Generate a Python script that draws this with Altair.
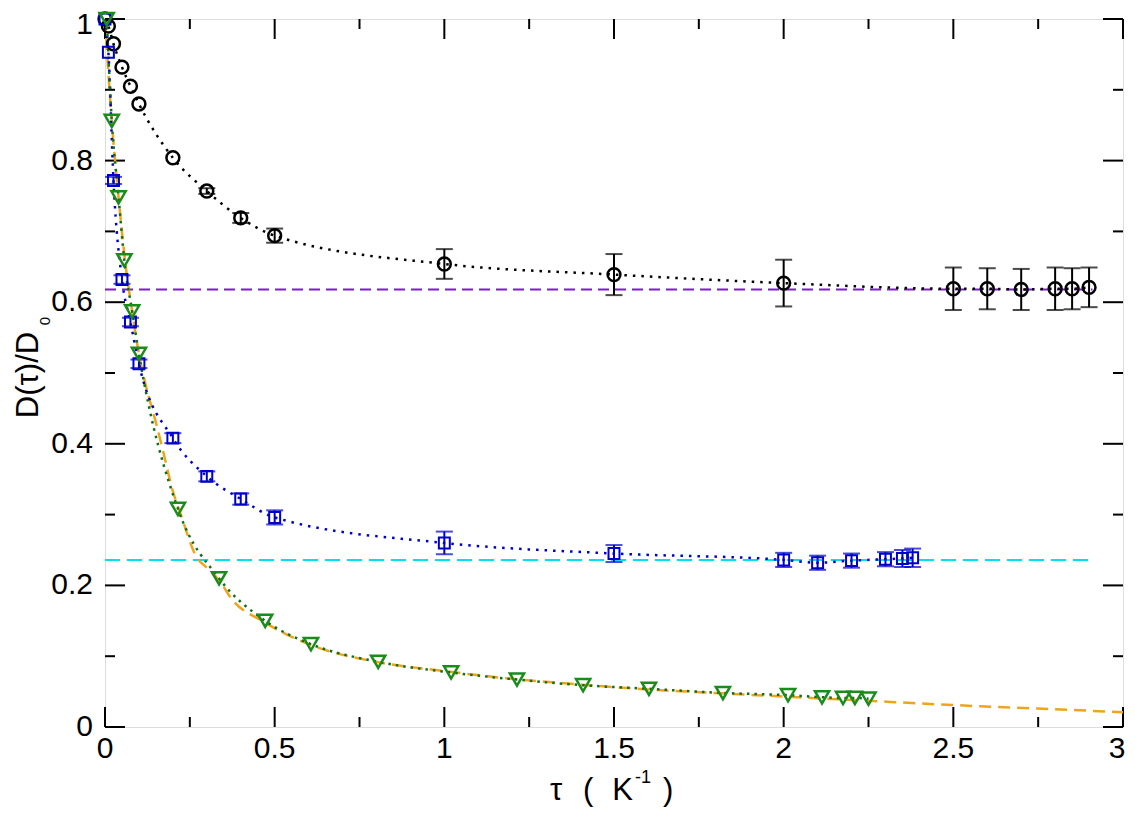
import altair as alt
import pandas as pd

# ---------------- data ----------------
# black circles
c_tau = [0.0, 0.01, 0.025, 0.05, 0.075, 0.1, 0.2, 0.3, 0.4, 0.5, 1.0, 1.5, 2.0, 2.5, 2.6, 2.7, 2.8, 2.85, 2.9]
c_d   = [1.0, 0.99, 0.965, 0.932, 0.905, 0.88, 0.804, 0.757, 0.719, 0.694, 0.654, 0.639, 0.627, 0.619, 0.619, 0.618, 0.619, 0.619, 0.621]
c_err = [0, 0, 0, 0, 0, 0, 0, 0.004, 0.007, 0.01, 0.021, 0.029, 0.033, 0.03, 0.029, 0.029, 0.03, 0.029, 0.028]

# blue squares
s_tau = [0.0, 0.01, 0.025, 0.05, 0.075, 0.1, 0.2, 0.3, 0.4, 0.5, 1.0, 1.5, 2.0, 2.1, 2.2, 2.3, 2.35, 2.38]
s_d   = [1.0, 0.953, 0.772, 0.632, 0.572, 0.513, 0.408, 0.354, 0.322, 0.296, 0.26, 0.245, 0.236, 0.232, 0.235, 0.237, 0.238, 0.239]
s_err = [0, 0, 0.005, 0.006, 0.006, 0.006, 0.007, 0.007, 0.008, 0.01, 0.016, 0.012, 0.01, 0.01, 0.01, 0.01, 0.012, 0.013]

# green triangles
t_tau = [0.005, 0.02, 0.04, 0.057, 0.08, 0.1, 0.215, 0.336, 0.472, 0.607, 0.805, 1.02, 1.214, 1.409,
         1.603, 1.821, 2.013, 2.113, 2.175, 2.21, 2.25]
t_d   = [1.0, 0.856, 0.748, 0.659, 0.587, 0.527, 0.308, 0.21, 0.15, 0.117, 0.092, 0.077, 0.067, 0.059,
         0.054, 0.048, 0.045, 0.042, 0.041, 0.041, 0.040]

# orange dashed curve
o_tau = [0.0, 0.02, 0.04, 0.06, 0.08, 0.1, 0.12, 0.15, 0.17, 0.2, 0.22, 0.27, 0.3, 0.34, 0.37, 0.47,
         0.6, 0.8, 1.0, 1.2, 1.4, 1.6, 1.8, 2.0, 2.25, 2.5, 2.75, 3.0]
o_d   = [1.0, 0.855, 0.748, 0.655, 0.587, 0.527, 0.483, 0.43, 0.392, 0.333, 0.305, 0.24, 0.225, 0.205, 0.183, 0.148,
         0.117, 0.092, 0.079, 0.068, 0.06, 0.053, 0.048, 0.043, 0.037, 0.031, 0.026, 0.021]

# horizontal reference levels
ref_level = [0.618, 0.236]
ref_end   = [2.91, 2.9]
ref_color = ["#7b1fc8", "#00e0ee"]

# axis ticks and tick labels
x_major = [0, 0.5, 1, 1.5, 2, 2.5, 3]
x_labels = ["0", "0.5", "1", "1.5", "2", "2.5", "3"]
x_minor = [0.25, 0.75, 1.25, 1.75, 2.25, 2.75]
y_major = [0, 0.2, 0.4, 0.6, 0.8, 1.0]
y_labels = ["0", "0.2", "0.4", "0.6", "0.8", "1"]
y_minor = [0.1, 0.3, 0.5, 0.7, 0.9]

W, H = 1018, 708
BLACK, BLUE, GREEN, ORANGE = "black", "#0000cc", "#1a8c1a", "#f0a418"
FONT = "Liberation Sans"

xs = alt.Scale(domain=[0, 3], nice=False, zero=False)
ys = alt.Scale(domain=[0, 1], nice=False, zero=False)

circles = pd.DataFrame({"tau": c_tau, "d": c_d, "err": c_err})
circles["lo"] = circles["d"] - circles["err"]
circles["hi"] = circles["d"] + circles["err"]
squares = pd.DataFrame({"tau": s_tau, "d": s_d, "err": s_err})
squares["lo"] = squares["d"] - squares["err"]
squares["hi"] = squares["d"] + squares["err"]
tris = pd.DataFrame({"tau": t_tau, "d": t_d})
orange = pd.DataFrame({"tau": o_tau, "d": o_d})
refs = pd.DataFrame({"y": ref_level, "x0": [0, 0], "x1": ref_end})

X = lambda f: alt.X(f, scale=xs, axis=None)
Y = lambda f: alt.Y(f, scale=ys, axis=None)

layers = []

xmaj = pd.DataFrame({"v": x_major, "lab": x_labels})
xmin = pd.DataFrame({"v": x_minor})
ymaj = pd.DataFrame({"v": y_major, "lab": y_labels})
ymin = pd.DataFrame({"v": y_minor})

# ---- inward ticks on all four sides ----
for df, ln in [(xmaj, 20), (xmin, 10)]:
    layers.append(alt.Chart(df).mark_rule(color="black", strokeWidth=2).encode(
        x=X("v:Q"), y=alt.value(H), y2=alt.value(H - ln)))
    layers.append(alt.Chart(df).mark_rule(color="black", strokeWidth=2).encode(
        x=X("v:Q"), y=alt.value(0), y2=alt.value(ln)))
for df, ln in [(ymaj, 20), (ymin, 10)]:
    layers.append(alt.Chart(df).mark_rule(color="black", strokeWidth=2).encode(
        y=Y("v:Q"), x=alt.value(0), x2=alt.value(ln)))
    layers.append(alt.Chart(df).mark_rule(color="black", strokeWidth=2).encode(
        y=Y("v:Q"), x=alt.value(W), x2=alt.value(W - ln)))

# ---- tick labels (edge labels nudged inward so they stay inside the page) ----
layers.append(alt.Chart(xmaj.iloc[:-1]).mark_text(font=FONT, fontSize=30, align="center", baseline="top",
                                                  color="black").encode(
    x=X("v:Q"), y=alt.value(H + 7), text="lab:N"))
layers.append(alt.Chart(xmaj.iloc[-1:]).mark_text(font=FONT, fontSize=30, align="center", baseline="top",
                                                  color="black", dx=-6).encode(
    x=X("v:Q"), y=alt.value(H + 7), text="lab:N"))
layers.append(alt.Chart(ymaj.iloc[:-1]).mark_text(font=FONT, fontSize=30, align="right", baseline="middle",
                                                  color="black").encode(
    y=Y("v:Q"), x=alt.value(-12), text="lab:N"))
layers.append(alt.Chart(ymaj.iloc[-1:]).mark_text(font=FONT, fontSize=30, align="right", baseline="middle",
                                                  color="black", dy=6).encode(
    y=Y("v:Q"), x=alt.value(-12), text="lab:N"))

# ---- horizontal dashed reference lines ----
layers.append(alt.Chart(refs.iloc[[0]]).mark_rule(strokeWidth=2, strokeDash=[11, 6], color=ref_color[0]).encode(
    x=X("x0:Q"), x2="x1:Q", y=Y("y:Q")))
layers.append(alt.Chart(refs.iloc[[1]]).mark_rule(strokeWidth=2, strokeDash=[15, 7], color=ref_color[1]).encode(
    x=X("x0:Q"), x2="x1:Q", y=Y("y:Q")))

# ---- orange dashed curve ----
layers.append(alt.Chart(orange).mark_line(color=ORANGE, strokeWidth=2.5, strokeDash=[12, 7],
                                          interpolate="monotone", clip=True).encode(
    x=X("tau:Q"), y=Y("d:Q")))

# ---- dotted connecting lines ----
layers.append(alt.Chart(circles).mark_line(color=BLACK, strokeWidth=2.5, strokeDash=[2.5, 6],
                                           interpolate="monotone").encode(x=X("tau:Q"), y=Y("d:Q")))
layers.append(alt.Chart(squares).mark_line(color=BLUE, strokeWidth=2.5, strokeDash=[2.5, 6],
                                           interpolate="monotone").encode(x=X("tau:Q"), y=Y("d:Q")))
layers.append(alt.Chart(tris).mark_line(color="#0f6e1a", strokeWidth=2.5, strokeDash=[2.5, 5],
                                        interpolate="monotone").encode(x=X("tau:Q"), y=Y("d:Q")))

# ---- error bars ----
for df, col in [(circles, BLACK), (squares, BLUE)]:
    e = df[df["err"] > 0]
    layers.append(alt.Chart(e).mark_rule(color=col, strokeWidth=2).encode(
        x=X("tau:Q"), y=Y("lo:Q"), y2="hi:Q"))
    layers.append(alt.Chart(e).mark_point(shape="stroke", size=17 * 17, strokeWidth=2, color=col).encode(
        x=X("tau:Q"), y=Y("lo:Q")))
    layers.append(alt.Chart(e).mark_point(shape="stroke", size=17 * 17, strokeWidth=2, color=col).encode(
        x=X("tau:Q"), y=Y("hi:Q")))

# ---- symbols ----
layers.append(alt.Chart(circles).mark_point(shape="circle", filled=False, size=165, strokeWidth=2.5,
                                            color=BLACK, opacity=1).encode(x=X("tau:Q"), y=Y("d:Q")))
layers.append(alt.Chart(squares).mark_point(shape="square", filled=False, size=120, strokeWidth=2,
                                            color=BLUE, opacity=1).encode(x=X("tau:Q"), y=Y("d:Q")))
layers.append(alt.Chart(tris).mark_point(shape="triangle-down", filled=False, size=200, strokeWidth=2.5,
                                         color=GREEN, opacity=1).encode(x=X("tau:Q"), y=Y("d:Q")))

# ---- axis titles (with sub/superscripts) ----
def txt(s, x, y, size, align="left", angle=0):
    return alt.Chart(pd.DataFrame({"t": [s]})).mark_text(
        font=FONT, fontSize=size, align=align, baseline="alphabetic",
        angle=angle, color="black").encode(x=alt.value(x), y=alt.value(y), text="t:N")

layers.append(txt("τ", 451, 781, 31, align="center"))
layers.append(txt("(", 478, 781, 31, align="left"))
layers.append(txt("K", 528, 781, 31, align="right"))
layers.append(txt("-1", 530, 764, 18, align="left"))
layers.append(txt(")", 558, 781, 31, align="left"))
layers.append(txt("D(τ)/D", -67, 356, 31, align="center", angle=270))
layers.append(txt("0", -55, 302, 15, align="center", angle=270))

chart = alt.layer(*layers).properties(
    width=W, height=H,
    padding={"left": 97, "top": 11, "right": 4, "bottom": 82},
    autosize=alt.AutoSizeParams(type="none"),
).configure_view(stroke="black", strokeWidth=2.5).configure(background="white")

chart.save("out.html", embed_options={"renderer": "svg", "actions": False})
